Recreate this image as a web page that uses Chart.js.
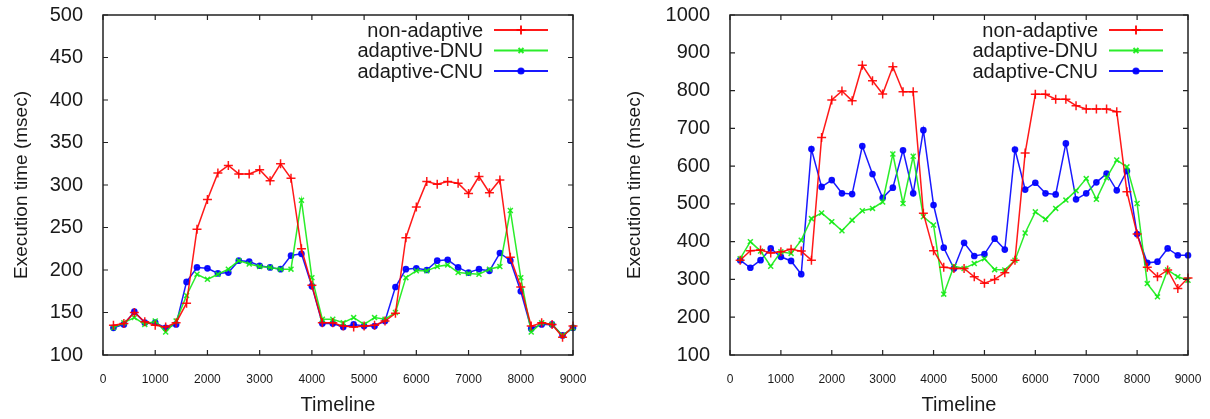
<!DOCTYPE html>
<html>
<head>
<meta charset="utf-8">
<script src="https://cdn.jsdelivr.net/npm/chart.js@4.4.0/dist/chart.umd.min.js"></script>
<style>
  html, body { margin: 0; padding: 0; background: #fff; }
  #wrap { position: relative; width: 1210px; height: 419px; }
  .box { position: absolute; top: 0; width: 605px; height: 419px; }
</style>
</head>
<body>
<div id="wrap">
  <div class="box" style="left:0"><canvas id="c1" width="605" height="419"></canvas></div>
  <div class="box" style="left:605px"><canvas id="c2" width="605" height="419"></canvas></div>
</div>
<script>
// ---- data ----
const timeline = [200,400,600,800,1000,1200,1400,1600,1800,2000,2200,2400,2600,2800,3000,3200,3400,3600,3800,4000,4200,4400,4600,4800,5000,5200,5400,5600,5800,6000,6200,6400,6600,6800,7000,7200,7400,7600,7800,8000,8200,8400,8600,8800,9000];

const seriesNames = ['non-adaptive', 'adaptive-DNU', 'adaptive-CNU'];

// left chart
const leftNonAdaptive = [135,137,150,139,135,133,138,161,248,283,314,323,313,313,318,305,325,308,225,182,138,138,
  134,133,134,135,140,149,238,274,304,301,304,302,290,310,291,306,215,180,134,138,136,121,134];
const leftDNU = [132,138,144,136,140,127,140,170,195,189,195,201,211,207,204,203,201,201,282,191,142,142,
  138,144,136,144,142,150,191,199,199,204,206,197,196,195,201,204,270,191,127,138,136,123,132];
const leftCNU = [132,136,151,138,138,132,136,186,203,202,196,197,211,210,205,203,201,217,219,181,137,137,
  133,136,134,134,140,180,201,202,200,211,212,203,197,201,199,220,211,175,131,136,136,123,132];

// right chart
const rightNonAdaptive = [351,376,378,370,373,380,375,351,676,775,799,773,867,826,791,863,797,797,475,376,332,329,
  329,307,290,300,318,351,635,790,790,777,777,760,751,751,751,744,532,420,332,307,325,276,304];
const rightDNU = [355,400,375,335,373,369,404,461,476,453,429,457,482,488,505,632,501,626,466,444,261,335,
  329,342,355,326,325,351,423,479,459,488,510,535,567,512,569,616,598,501,289,254,325,307,298];
const rightCNU = [351,331,351,382,360,349,314,645,545,563,528,526,653,579,516,543,642,528,695,497,384,329,
  397,362,367,408,379,644,538,556,528,525,660,512,528,557,580,536,587,420,344,347,382,364,364];

const xTicks = [0,1000,2000,3000,4000,5000,6000,7000,8000,9000];
const leftYTicks = [100,150,200,250,300,350,400,450,500];
const rightYTicks = [100,200,300,400,500,600,700,800,900,1000];

// ---- styling ----
const FONT = '"Liberation Sans", Arial, Helvetica, sans-serif';
const TEXT = '#1a1a1a';
const styles = [
  { color: 'rgba(255,0,0,0.9)', pointStyle: 'cross', radius: 4.5 },
  { color: 'rgba(20,235,20,0.9)', pointStyle: 'crossRot', radius: 3.5 },
  { color: 'rgba(0,0,255,0.9)', pointStyle: 'circle', radius: 2.6 }
];

function makeDatasets(arrs) {
  return arrs.map((arr, i) => ({
    label: seriesNames[i],
    data: timeline.map((t, k) => ({ x: t, y: arr[k] })),
    borderColor: styles[i].color,
    backgroundColor: styles[i].color,
    borderWidth: 1.5,
    pointStyle: styles[i].pointStyle,
    pointRadius: styles[i].radius,
    pointBorderWidth: 1.5,
    pointBackgroundColor: styles[i].color,
    pointBorderColor: styles[i].color,
    tension: 0,
    clip: false
  }));
}

const framePlugin = {
  id: 'frame',
  afterDatasetsDraw(chart) {
    const { ctx, chartArea: a, scales } = chart;
    ctx.save();
    ctx.strokeStyle = '#222';
    ctx.lineWidth = 1.5;
    ctx.strokeRect(a.left, a.top, a.right - a.left, a.bottom - a.top);
    ctx.lineWidth = 1.2;
    ctx.beginPath();
    const tl = 5;
    scales.x.ticks.forEach(t => {
      const px = scales.x.getPixelForValue(t.value);
      ctx.moveTo(px, a.bottom); ctx.lineTo(px, a.bottom - tl);
      ctx.moveTo(px, a.top); ctx.lineTo(px, a.top + tl);
    });
    scales.y.ticks.forEach(t => {
      const py = scales.y.getPixelForValue(t.value);
      ctx.moveTo(a.left, py); ctx.lineTo(a.left + tl, py);
      ctx.moveTo(a.right, py); ctx.lineTo(a.right - tl, py);
    });
    ctx.stroke();

    // legend (gnuplot style: text right-aligned, then sample line with marker)
    ctx.font = '20px ' + FONT;
    ctx.textAlign = 'right';
    ctx.textBaseline = 'middle';
    chart.data.datasets.forEach((ds, i) => {
      const y = 30 + i * 20.5;
      ctx.fillStyle = TEXT;
      ctx.fillText(ds.label, a.right - 90, y + 1);
      const x0 = a.right - 79, x1 = a.right - 25;
      ctx.strokeStyle = ds.borderColor;
      ctx.lineWidth = 2;
      ctx.beginPath(); ctx.moveTo(x0, y); ctx.lineTo(x1, y); ctx.stroke();
      ctx.fillStyle = ds.borderColor;
      Chart.helpers.drawPoint(ctx, {
        pointStyle: ds.pointStyle, radius: ds.pointRadius, borderWidth: 1.5, rotation: 0
      }, (x0 + x1) / 2, y);
    });
    ctx.restore();
  }
};

function makeChart(id, arrs, yTicks, yMin, yMax, yWidth, padRight, yTitlePad) {
  return new Chart(document.getElementById(id), {
    type: 'line',
    data: { datasets: makeDatasets(arrs) },
    options: {
      responsive: false,
      animation: false,
      layout: { padding: { left: 0, right: padRight, top: 15, bottom: 0 } },
      plugins: { legend: { display: false }, tooltip: { enabled: false } },
      scales: {
        x: {
          type: 'linear', min: 0, max: 9000,
          afterBuildTicks: s => { s.ticks = xTicks.map(v => ({ value: v })); },
          afterFit: s => { s.height = 64; s.paddingLeft = 0; s.paddingRight = 0; },
          grid: { display: false },
          border: { display: false },
          ticks: { font: { family: FONT, size: 12 }, color: TEXT, padding: 9, maxRotation: 0, autoSkip: false,
                   callback: v => String(v) },
          title: { display: true, text: 'Timeline', color: TEXT, font: { family: FONT, size: 20 },
                   padding: { top: 0, bottom: 2 } }
        },
        y: {
          type: 'linear', min: yMin, max: yMax,
          afterBuildTicks: s => { s.ticks = yTicks.map(v => ({ value: v })); },
          afterFit: s => { s.width = yWidth; s.paddingTop = 0; s.paddingBottom = 0; },
          grid: { display: false },
          border: { display: false },
          ticks: { font: { family: FONT, size: 20 }, color: TEXT, padding: 12, autoSkip: false,
                   callback: v => String(v) },
          title: { display: true, text: 'Execution time (msec)', color: TEXT, font: { family: FONT, size: 19 },
                   padding: { top: yTitlePad, bottom: 0 } }
        }
      }
    },
    plugins: [framePlugin]
  });
}

makeChart('c1', [leftNonAdaptive, leftDNU, leftCNU], leftYTicks, 100, 500, 103, 32, 10);
makeChart('c2', [rightNonAdaptive, rightDNU, rightCNU], rightYTicks, 100, 1000, 125, 22, 18);
</script>
</body>
</html>
